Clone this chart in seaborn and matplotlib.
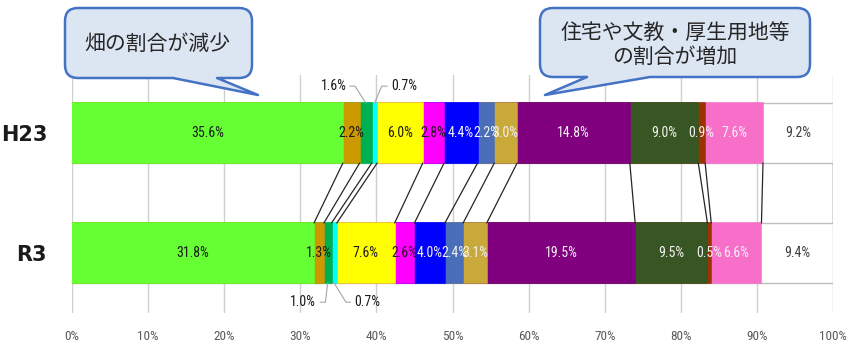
import matplotlib
matplotlib.use("Agg")
import matplotlib.pyplot as plt
from matplotlib.path import Path
from matplotlib.patches import PathPatch
from matplotlib import font_manager
import seaborn as sns
import numpy as np

# ---- data ----
years = ["H23", "R3"]
h23_values = [35.6, 2.2, 1.6, 0.7, 6.0, 2.8, 4.4, 2.2, 3.0, 14.8, 9.0, 0.9, 7.6, 9.2]
r3_values = [31.8, 1.3, 1.0, 0.7, 7.6, 2.6, 4.0, 2.4, 3.1, 19.5, 9.5, 0.5, 6.6, 9.4]
seg_colors = ["#66FF33", "#CC9900", "#00B050", "#00FFFF", "#FFFF00", "#FF00FF",
              "#0000FF", "#4A6FB8", "#C9A93A", "#800080", "#375623", "#993300",
              "#F76FC9", "#FFFFFF"]
label_colors = ["#1A1A1A"] * 6 + ["#F2F2F2"] * 7 + ["#404040"]
outside_segments = [2, 3]          # labels placed outside the bars
xticks = list(range(0, 101, 10))
xtick_labels = [f"{t}%" for t in xticks]
callout_left = "畑の割合が減少"
callout_right = "住宅や文教・厚生用地等\nの割合が増加"

sns.set_theme(style="white")
names = {f.name for f in font_manager.fontManager.ttflist}
cond = [n for n in ["Liberation Sans Narrow", "DejaVu Sans Condensed", "Roboto Condensed",
                    "Open Sans Condensed"] if n in names]
plt.rcParams["font.family"] = cond[:1] + ["DejaVu Sans"]
LBL_FS = 10 if cond else 8.5

W, H = 846, 342
fig = plt.figure(figsize=(W / 100, H / 100), dpi=100)
ax = fig.add_axes([72 / W, 29 / H, 761 / W, 238 / H])

h23 = np.array(h23_values)
r3 = np.array(r3_values)
cum_h = np.cumsum(h23)
cum_r = np.cumsum(r3)

# stacked bars via cumulative overlay (largest first)
for i in range(len(h23) - 1, -1, -1):
    last = i == len(h23) - 1
    sns.barplot(x=[cum_h[i], cum_r[i]], y=years, orient="h", color=seg_colors[i],
                saturation=1, width=0.5, ax=ax,
                edgecolor="#BFBFBF" if last else seg_colors[i],
                linewidth=1.0 if last else 1.1, zorder=3)

# connector lines between boundaries
for i in range(len(h23)):
    ax.plot([cum_h[i], cum_r[i]], [0.25, 0.75], color="#262626", lw=0.9, zorder=4)

# in-bar labels
for row, (vals, cums) in enumerate([(h23, cum_h), (r3, cum_r)]):
    for i, v in enumerate(vals):
        if i in outside_segments:
            continue
        ax.text(cums[i] - v / 2, row, f"{v:.1f}%", ha="center", va="center",
                fontsize=LBL_FS, color=label_colors[i], zorder=6)

# outside labels with leader lines
lead_col = "#A6A6A6"
c = cum_h[2] - h23[2] / 2
ax.text(34.4, -0.39, f"{h23[2]:.1f}%", ha="center", va="center", fontsize=LBL_FS, color="#1A1A1A")
ax.plot([36.5, 37.2, c], [-0.39, -0.39, -0.25], color=lead_col, lw=0.8, zorder=4)
c = cum_h[3] - h23[3] / 2
ax.text(43.6, -0.39, f"{h23[3]:.1f}%", ha="center", va="center", fontsize=LBL_FS, color="#1A1A1A")
ax.plot([41.4, 40.7, c], [-0.39, -0.39, -0.25], color=lead_col, lw=0.8, zorder=4)
c = cum_r[2] - r3[2] / 2
ax.text(30.3, 1.41, f"{r3[2]:.1f}%", ha="center", va="center", fontsize=LBL_FS, color="#1A1A1A")
ax.plot([32.6, 33.3, c], [1.41, 1.41, 1.25], color=lead_col, lw=0.8, zorder=4)
c = cum_r[3] - r3[3] / 2
ax.text(38.8, 1.41, f"{r3[3]:.1f}%", ha="center", va="center", fontsize=LBL_FS, color="#1A1A1A")
ax.plot([36.6, 36.0, c], [1.41, 1.41, 1.25], color=lead_col, lw=0.8, zorder=4)

# axes styling
ax.set_xlim(0, 100)
ax.set_ylim(1.5, -0.483)
ax.set_xticks(xticks)
ax.set_xticklabels(xtick_labels, fontsize=9.5 if cond else 8.5, color="#595959")
ax.set_yticks([0, 1])
ax.set_yticklabels(years, fontsize=15, fontweight="bold", color="#1A1A1A",
                   family=["DejaVu Sans"])
ax.tick_params(axis="x", length=0, pad=12)
ax.tick_params(axis="y", length=0, pad=18)
ax.set_xlabel("")
ax.set_ylabel("")
ax.grid(axis="x", color="#D0D0D0", lw=1.0, zorder=0)
ax.grid(axis="y", visible=False)
ax.set_axisbelow(True)
for s in ax.spines.values():
    s.set_visible(False)
ax.set_facecolor("white")

# callouts (pixel overlay)
ov = fig.add_axes([0, 0, 1, 1], zorder=10)
ov.set_xlim(0, W)
ov.set_ylim(H, 0)
ov.axis("off")
ov.patch.set_alpha(0)


def callout(x0, y0, x1, y1, tl, tr, tip, r=13):
    verts = [(x0 + r, y0), (x1 - r, y0), (x1, y0), (x1, y0 + r), (x1, y1 - r),
             (x1, y1), (x1 - r, y1), (tr, y1), tip, (tl, y1), (x0 + r, y1),
             (x0, y1), (x0, y1 - r), (x0, y0 + r), (x0, y0), (x0 + r, y0), (x0 + r, y0)]
    codes = [Path.MOVETO, Path.LINETO, Path.CURVE3, Path.CURVE3, Path.LINETO,
             Path.CURVE3, Path.CURVE3, Path.LINETO, Path.LINETO, Path.LINETO, Path.LINETO,
             Path.CURVE3, Path.CURVE3, Path.LINETO, Path.CURVE3, Path.CURVE3, Path.CLOSEPOLY]
    ov.add_patch(PathPatch(Path(verts, codes), facecolor="#DCE6F2", edgecolor="#4472C4",
                           lw=1.8, joinstyle="round"))


callout(65, 8, 252, 78, 173, 217, (258, 95))
callout(540, 8, 810, 77, 587, 650, (545, 95))
ov.text(157, 44, callout_left, ha="center", va="center", fontsize=15, color="#262626",
        family=["Noto Sans CJK JP", "DejaVu Sans"])
ov.text(675, 45, callout_right, ha="center", va="center", fontsize=15, color="#262626",
        linespacing=1.15, family=["Noto Sans CJK JP", "DejaVu Sans"])

fig.savefig("out.png", dpi=100, facecolor="white")
